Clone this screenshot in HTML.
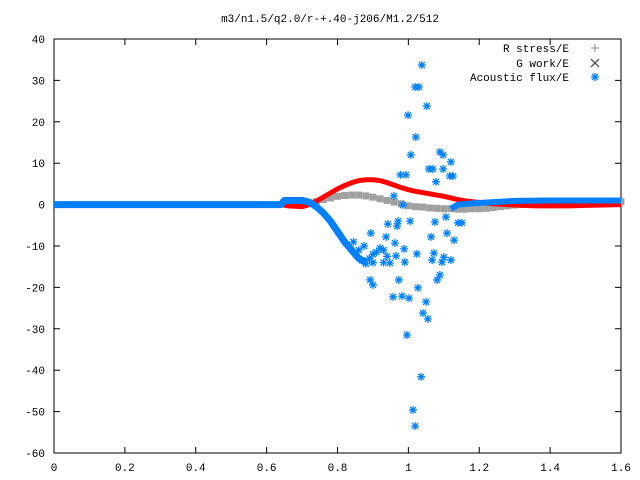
<!DOCTYPE html>
<html><head><meta charset="utf-8"><style>
body{margin:0;background:#fff}
svg{display:block;font-family:"Liberation Mono","DejaVu Sans Mono",monospace;font-size:11px}
</style></head><body>
<svg id="chart" width="640" height="480"></svg>
<script>
const xTicks=[0,0.2,0.4,0.6,0.8,1,1.2,1.4,1.6];
const xTickLabels=["0","0.2","0.4","0.6","0.8","1","1.2","1.4","1.6"];
const yTicks=[40,30,20,10,0,-10,-20,-30,-40,-50,-60];
const yTickLabels=["40","30","20","10","0","-10","-20","-30","-40","-50","-60"];
const redX=[0,0.64,0.66,0.70,0.72,0.74,0.76,0.78,0.80,0.82,0.84,0.86,0.88,0.90,0.92,0.94,0.96,0.98,1.0,1.02,1.04,1.06,1.08,1.10,1.12,1.14,1.16,1.18,1.2,1.24,1.28,1.32,1.36,1.4,1.45,1.5,1.55,1.6];
const redY=[0,0,-0.3,-0.5,0,0.8,1.8,2.8,3.8,4.6,5.3,5.8,6.0,6.0,5.8,5.3,4.7,4.1,3.6,3.2,2.9,2.6,2.3,2.0,1.6,1.2,0.9,0.7,0.5,0.2,0,-0.2,-0.3,-0.3,-0.3,-0.2,-0.1,0];
const grayX=[0.70,0.72,0.74,0.76,0.78,0.80,0.82,0.84,0.86,0.88,0.90,0.92,0.94,0.96,0.98,1.0,1.02,1.04,1.06,1.08,1.10,1.12,1.14,1.16,1.18,1.2,1.22,1.24,1.26,1.28,1.30,1.32,1.34,1.36,1.38,1.4,1.42,1.44,1.46,1.48,1.5,1.52,1.54,1.56,1.58,1.6];
const grayY=[0,0.3,0.7,1.2,1.6,2.0,2.2,2.3,2.3,2.1,1.8,1.4,1.0,0.6,0.2,-0.3,-0.5,-0.6,-0.8,-0.9,-1.0,-1.0,-1.1,-1.1,-1.0,-1.0,-0.9,-0.7,-0.5,-0.3,-0.1,0.1,0.3,0.4,0.5,0.6,0.6,0.7,0.7,0.7,0.7,0.7,0.7,0.7,0.7,0.7];
const blueX=[0,0.64,0.65,0.70,0.72,0.74,0.76,0.78,0.80,0.82,0.84,0.86,0.88];
const blueY=[0,0,1,1,0.6,-0.5,-2,-4,-6.5,-9,-11,-13,-14];
const blueRX=[1.12,1.14,1.18,1.24,1.3,1.4,1.5,1.6];
const blueRY=[-1,0,0.3,0.6,0.9,1,1,1];
const scatX=[1.038,1.019,1.030,1.052,0.999,1.021,1.007,1.089,1.098,1.120,1.058,1.069,1.098,1.117,1.126,0.978,0.993,1.078,0.959,0.985,0.942,0.971,0.968,1.005,1.075,1.106,1.140,1.151,1.064,1.109,1.129,0.937,0.962,0.988,1.024,1.072,1.067,1.100,1.095,1.120,0.990,0.965,0.948,0.894,0.892,0.900,0.973,1.027,1.089,1.081,0.957,0.982,1.002,1.050,1.041,1.055,0.996,1.036,1.013,1.019,0.845,0.86,0.87,0.88,0.89,0.9,0.91,0.92,0.93,0.94,0.875,0.9,0.93];
const scatY=[33.7,28.4,28.4,23.8,21.6,16.3,12.0,12.7,12.0,10.3,8.6,8.6,8.6,6.9,6.9,7.2,7.2,5.5,2.1,-0.1,-4.7,-4.0,-5.2,-4.0,-4.2,-3.0,-4.4,-4.4,-7.8,-6.9,-8.6,-7.8,-9.3,-10.7,-11.9,-11.7,-13.4,-12.7,-13.9,-13.4,-13.9,-12.4,-14.1,-6.9,-18.2,-19.4,-18.2,-20.1,-17,-18.2,-22.3,-22.1,-22.6,-23.5,-26.2,-27.6,-31.5,-41.6,-49.6,-53.5,-9,-11,-13.5,-14.3,-13,-12,-11.5,-10.5,-11,-12.5,-10,-14,-14];
const NS="http://www.w3.org/2000/svg";
const svg=document.getElementById('chart');
const L=54,R=621,T=39,B=453;
const sx=v=>L+(v-0)/(1.6-0)*(R-L);
const sy=v=>B-(v+60)/100*(B-T);
function mk(tag,attrs,parent){const e=document.createElementNS(NS,tag);for(const k in attrs)e.setAttribute(k,attrs[k]);(parent||svg).appendChild(e);return e;}
const frame=mk('rect',{x:L,y:T,width:R-L,height:B-T,fill:'none',stroke:'#000','stroke-width':1});


xTicks.forEach((v,i)=>{
 const x=sx(v);
 const t=mk('path',{d:`M${x} ${B}v-6M${x} ${T}v6`,stroke:'#000'});
 
 
 const tx=mk('text',{x:x,y:B+18,'text-anchor':'middle'});tx.textContent=xTickLabels[i];
 
 
});
yTicks.forEach((v,i)=>{
 const y=sy(v);
 const t=mk('path',{d:`M${L} ${y}h6M${R} ${y}h-6`,stroke:'#000'});
 
 
 const tx=mk('text',{x:L-9,y:y+4,'text-anchor':'end'});tx.textContent=yTickLabels[i];
 
 
});
const title=mk('text',{x:330,y:22,'text-anchor':'middle'});title.textContent='m3/n1.5/q2.0/r-+.40-j206/M1.2/512';


function line(xs,ys,color,w,name){
 const p=mk('polyline',{points:xs.map((x,i)=>sx(x)+','+sy(ys[i])).join(' '),fill:'none',stroke:color,'stroke-width':w,'stroke-linejoin':'round'});
 
 
}
function star(x,y,g){
 const X=sx(x),Y=sy(y);
 mk('path',{d:`M${X-4} ${Y}h8M${X} ${Y-4}v8M${X-3} ${Y-3}l6 6M${X-3} ${Y+3}l6 -6`,stroke:'#0080ff','stroke-width':1.3},g);
}
const gG=mk('g',{});


grayX.forEach((x,i)=>mk('rect',{x:sx(x)-3.5,y:sy(grayY[i])-3.5,width:7,height:7,fill:'#a0a0a0'},gG));
line(redX,redY,'#ff0000',5,'r-stress-series');
line(blueX,blueY,'#0080ff',7,'acoustic-flux-curve-left');
line(blueRX,blueRY,'#0080ff',6,'acoustic-flux-curve-right');
const gB=mk('g',{});


scatX.forEach((x,i)=>star(x,scatY[i],gB));
const leg=[['R stress/E',48,'#a0a0a0','plus'],['G work/E',63,'#505050','x'],['Acoustic flux/E',77,'#0080ff','star']];
leg.forEach(([txt,y,c,m])=>{
 const g=mk('g',{});
 
 
 const t=mk('text',{x:569,y:y+4,'text-anchor':'end'},g);t.textContent=txt;
 const X=595;
 let d=m==='plus'?`M${X-4} ${y}h8M${X} ${y-4}v8`:m==='x'?`M${X-4} ${y-4}l8 8M${X-4} ${y+4}l8 -8`:`M${X-4} ${y}h8M${X} ${y-4}v8M${X-3} ${y-3}l6 6M${X-3} ${y+3}l6 -6`;
 mk('path',{d:d,stroke:c,'stroke-width':1.3},g);
});
</script>
</body></html>
